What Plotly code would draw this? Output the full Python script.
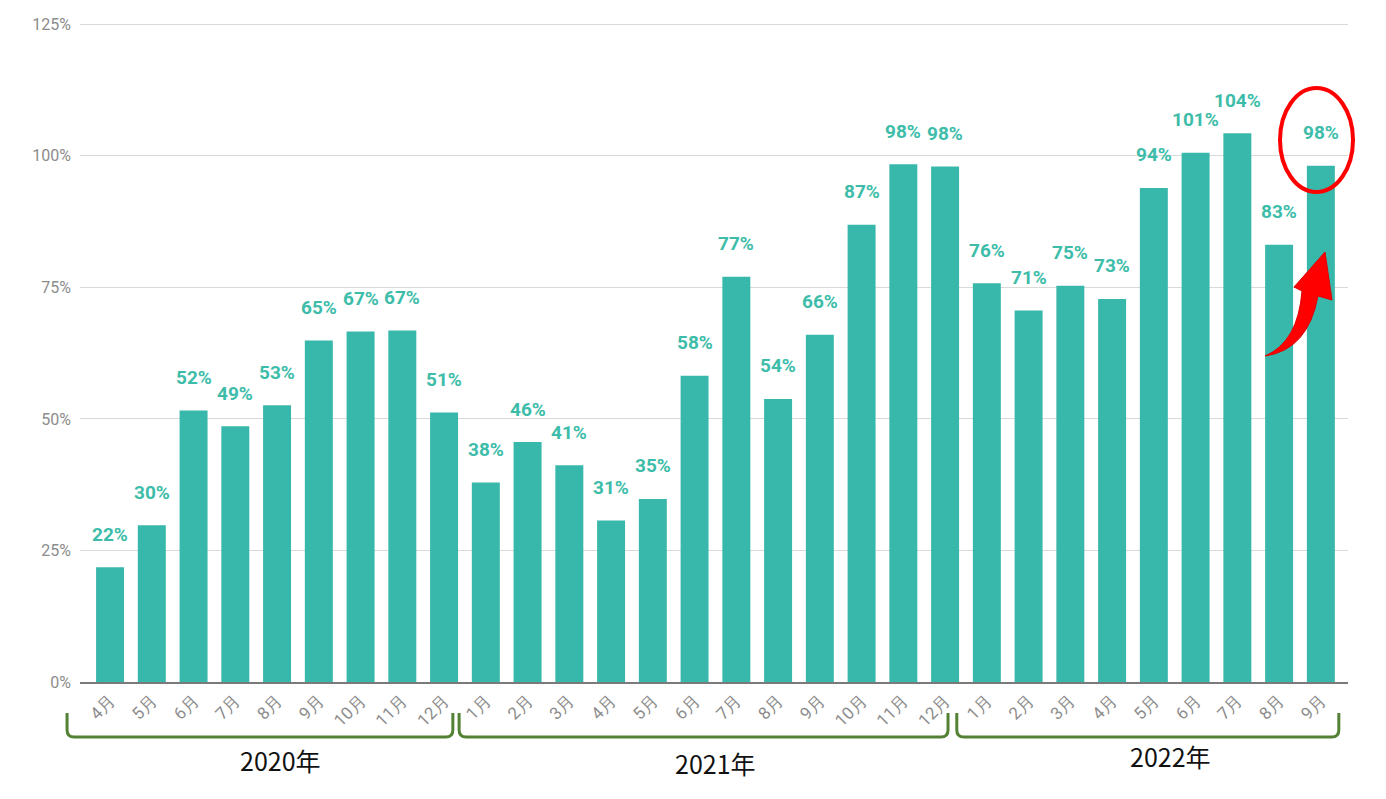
import plotly.graph_objects as go

# ---- data ----
months = ["4月", "5月", "6月", "7月", "8月", "9月", "10月", "11月", "12月",
          "1月", "2月", "3月", "4月", "5月", "6月", "7月", "8月", "9月", "10月", "11月", "12月",
          "1月", "2月", "3月", "4月", "5月", "6月", "7月", "8月", "9月"]
years = ["2020"] * 9 + ["2021"] * 12 + ["2022"] * 9
values = [21.8, 29.8, 51.6, 48.6, 52.6, 64.9, 66.6, 66.8, 51.2,
          37.9, 45.6, 41.2, 30.7, 34.8, 58.2, 77.0, 53.8, 66.0, 86.9, 98.4, 98.0,
          75.8, 70.6, 75.3, 72.8, 93.9, 100.6, 104.3, 83.1, 98.1]
year_labels = ["2020年", "2021年", "2022年"]
y_ticks = [0, 25, 50, 75, 100, 125]
y_ticktext = [f"{t}%" for t in y_ticks]

# ---- layout constants (page body has an 8px offset) ----
OFF = 8
W, H = 1386 - OFF, 799 - OFF
ML, MR, MT, MB = 80 - OFF, 38, 23 - OFF, 117
PW, PH = W - ML - MR, H - MT - MB
XR = [-0.72, 29.65]
YR = [0, 125.25]
BAR = "#38B8AA"
LBL = "#3DBDA9"
GREEN = "#548235"

idx = list(range(len(values)))


def px2x(px):
    return (px - OFF - ML) / PW


def py2y(py):
    return (H - MB - (py - OFF)) / PH


def i2x(i):
    return (i - XR[0]) / (XR[1] - XR[0])


fig = go.Figure()
fig.add_trace(go.Bar(
    x=idx, y=values, marker=dict(color=BAR, line=dict(width=0)),
    hoverinfo="y", showlegend=False,
))

annotations = []
for i, v in enumerate(values):
    annotations.append(dict(
        x=i, y=v, xref="x", yref="y", text=f"{int(v + 0.5)}%", showarrow=False,
        yanchor="middle", yshift=33,
        font=dict(family="Roboto", size=19, color=LBL, weight="bold"),
    ))

shapes = []
yt, yb = py2y(713), py2y(737)
r_y, r_x = 7 / PH, 7 / PW
bounds = [(-1.03, 8.21), (8.36, 20.07), (20.28, 29.43)]
label_px = [(280, 760), (715, 763), (1170, 756)]
for g, ((a_i, b_i), lab) in enumerate(zip(bounds, year_labels)):
    a, b = i2x(a_i), i2x(b_i)
    path = (f"M {a},{yt} L {a},{yb + r_y} Q {a},{yb} {a + r_x},{yb} "
            f"L {b - r_x},{yb} Q {b},{yb} {b},{yb + r_y} L {b},{yt}")
    shapes.append(dict(type="path", path=path, xref="paper", yref="paper",
                       line=dict(color=GREEN, width=3)))
    lx, ly = label_px[g]
    annotations.append(dict(
        x=px2x(lx), y=py2y(ly), xref="paper", yref="paper", text=lab,
        showarrow=False, xanchor="center", yanchor="middle",
        font=dict(family="Noto Sans CJK JP", size=25, color="#111111"),
    ))

# red ellipse around last label
shapes.append(dict(type="circle", xref="paper", yref="paper",
                   x0=px2x(1280), x1=px2x(1353), y0=py2y(192), y1=py2y(88),
                   line=dict(color="#FF0000", width=4)))

# red curved arrow
pts = [(1265, 356), (1298, 342), (1302, 291), (1294, 287), (1325, 252),
       (1332, 300), (1318, 296), (1308, 350), (1265, 356)]
P = [(px2x(x), py2y(y)) for x, y in pts]
arrow = (f"M {P[0][0]},{P[0][1]} Q {P[1][0]},{P[1][1]} {P[2][0]},{P[2][1]} "
         f"L {P[3][0]},{P[3][1]} L {P[4][0]},{P[4][1]} L {P[5][0]},{P[5][1]} "
         f"L {P[6][0]},{P[6][1]} Q {P[7][0]},{P[7][1]} {P[8][0]},{P[8][1]} Z")
shapes.append(dict(type="path", path=arrow, xref="paper", yref="paper",
                   fillcolor="#FF0000", line=dict(color="#E00000", width=1)))

fig.update_layout(
    width=W, height=H,
    margin=dict(l=ML, r=MR, t=MT, b=MB, pad=0),
    paper_bgcolor="white", plot_bgcolor="white",
    bargap=0.33,
    font=dict(family="Roboto"),
    xaxis=dict(
        range=XR, tickmode="array", tickvals=idx, ticktext=months,
        tickangle=-45, showgrid=False, showline=True, linecolor="#7a7a7a",
        linewidth=2, ticks="", tickfont=dict(size=17, color="#8c8c8c"),
        zeroline=False, automargin=False,
    ),
    yaxis=dict(
        range=YR, tickmode="array", tickvals=y_ticks, ticktext=y_ticktext,
        showgrid=True, gridcolor="#d9d9d9", gridwidth=1, zeroline=False,
        ticks="", tickfont=dict(size=16, color="#8c8c8c"), ticklabelstandoff=8,
        automargin=False,
    ),
    shapes=shapes,
    annotations=annotations,
)

fig.write_html("out.html")
